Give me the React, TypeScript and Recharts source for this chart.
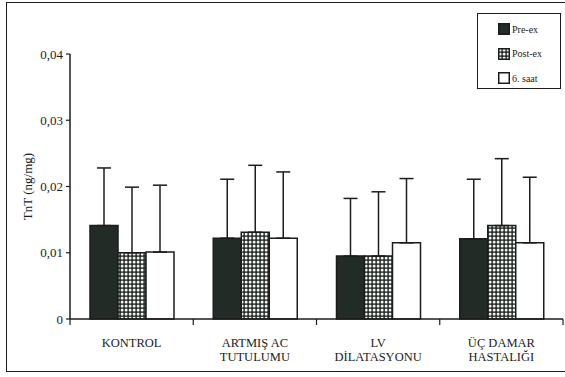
import React from "react";
import {
  Bar,
  BarChart,
  ErrorBar,
  XAxis,
  YAxis,
} from "recharts";

const categories = ["KONTROL", "ARTMIŞ AC\nTUTULUMU", "LV\nDİLATASYONU", "ÜÇ DAMAR\nHASTALIĞI"];
const preEx = [0.0141, 0.0122, 0.0095, 0.0121];
const preExSd = [0.0087, 0.0089, 0.0087, 0.009];
const postEx = [0.01, 0.0131, 0.0095, 0.0141];
const postExSd = [0.0099, 0.0101, 0.0097, 0.0101];
const sixHour = [0.0101, 0.0122, 0.0115, 0.0115];
const sixHourSd = [0.0101, 0.01, 0.0097, 0.0099];
const yTicks = [0, 0.01, 0.02, 0.03, 0.04];
const edgeTicks = [0, 1, 2, 3, 4];

const series = [
  { key: "pre", name: "Pre-ex", fill: "#222b26" },
  { key: "post", name: "Post-ex", fill: "url(#dots)" },
  { key: "six", name: "6. saat", fill: "#ffffff" },
];

const data = categories.map((name, i) => ({
  name,
  edge: i,
  pre: preEx[i],
  preErr: [0, preExSd[i]],
  post: postEx[i],
  postErr: [0, postExSd[i]],
  six: sixHour[i],
  sixErr: [0, sixHourSd[i]],
}));

const INK = "#1c1c1c";
const FONT = "'Liberation Serif', 'Times New Roman', serif";

const formatY = (v: number) => (v === 0 ? "0" : v.toFixed(2).replace(".", ","));

function CategoryTick({ x, y, payload }: any) {
  const lines = String(payload.value).split("\n");
  return (
    <g transform={`translate(${x},${y})`}>
      {lines.map((line, i) => (
        <text
          key={i}
          x={0}
          y={27 + i * 13.5}
          textAnchor="middle"
          fill={INK}
          fontSize={12.5}
          fontFamily={FONT}
        >
          {line}
        </text>
      ))}
    </g>
  );
}

function LegendBox() {
  return (
    <div
      style={{
        position: "absolute",
        left: 477,
        top: 13,
        border: `1.5px solid ${INK}`,
        background: "#fff",
        width: 84,
        height: 76,
        boxSizing: "border-box",
        padding: "3px 0 0 20px",
        fontFamily: FONT,
        fontSize: 10,
        color: INK,
      }}
    >
      {series.map((s) => (
        <div key={s.key} style={{ display: "flex", alignItems: "center", height: 24.5 }}>
          <svg width={12} height={12} style={{ marginRight: 2 }}>
            <rect x={0.75} y={0.75} width={10.5} height={10.5} fill={s.fill} stroke={INK} strokeWidth={1.5} />
          </svg>
          {s.name}
        </div>
      ))}
    </div>
  );
}

export default function App() {
  return (
    <div
      style={{
        position: "absolute",
        left: 0,
        top: 0,
        width: 565,
        height: 377,
        overflow: "hidden",
        background: "#fff",
      }}
    >
      <div
        style={{
          position: "absolute",
          left: 6,
          top: 2,
          width: 565,
          height: 370,
          border: `1.5px solid ${INK}`,
          borderRight: "none",
          boxSizing: "border-box",
        }}
      />
      <svg width={0} height={0} style={{ position: "absolute" }}>
        <defs>
          <pattern id="dots" patternUnits="userSpaceOnUse" width={4} height={4}>
            <rect width={4} height={4} fill="#27302b" />
            <rect x={0.8} y={0.8} width={2.7} height={2.7} rx={1} fill="#f4f4f4" />
          </pattern>
        </defs>
      </svg>
      <div style={{ position: "absolute", left: 0, top: 0 }}>
        <BarChart
          width={565}
          height={377}
          data={data}
          margin={{ top: 54, right: 2, bottom: 0, left: 0 }}
          barSize={28}
          barGap={0}
        >
          <XAxis
            dataKey="edge"
            type="number"
            domain={[0, 4]}
            ticks={edgeTicks}
            tick={() => <g />}
            tickSize={6}
            height={1}
            axisLine={{ stroke: INK, strokeWidth: 1.5 }}
            tickLine={{ stroke: INK, strokeWidth: 1.2 }}
          />
          <XAxis
            xAxisId="cat"
            dataKey="name"
            interval={0}
            tickLine={false}
            tickSize={0}
            tickMargin={0}
            height={57}
            tick={<CategoryTick />}
            axisLine={false}
          />
          <YAxis
            width={70}
            domain={[0, 0.04]}
            ticks={yTicks}
            tickFormatter={formatY}
            tickSize={4}
            tickMargin={3}
            axisLine={{ stroke: INK, strokeWidth: 1.5 }}
            tickLine={{ stroke: INK, strokeWidth: 1.2 }}
            tick={{ fill: INK, fontSize: 13, fontFamily: FONT }}
            label={{
              value: "TnT (ng/mg)",
              angle: -90,
              position: "center",
              dx: -8,
              fill: INK,
              fontSize: 13,
              fontFamily: FONT,
            }}
          />
          {series.map((s) => (
            <Bar
              key={s.key}
              xAxisId="cat"
              dataKey={s.key}
              name={s.name}
              fill={s.fill}
              stroke={INK}
              strokeWidth={1.5}
              isAnimationActive={false}
            >
              <ErrorBar
                dataKey={`${s.key}Err`}
                width={7}
                stroke={INK}
                strokeWidth={1.5}
                direction="y"
                isAnimationActive={false}
              />
            </Bar>
          ))}
        </BarChart>
      </div>
      <LegendBox />
    </div>
  );
}
